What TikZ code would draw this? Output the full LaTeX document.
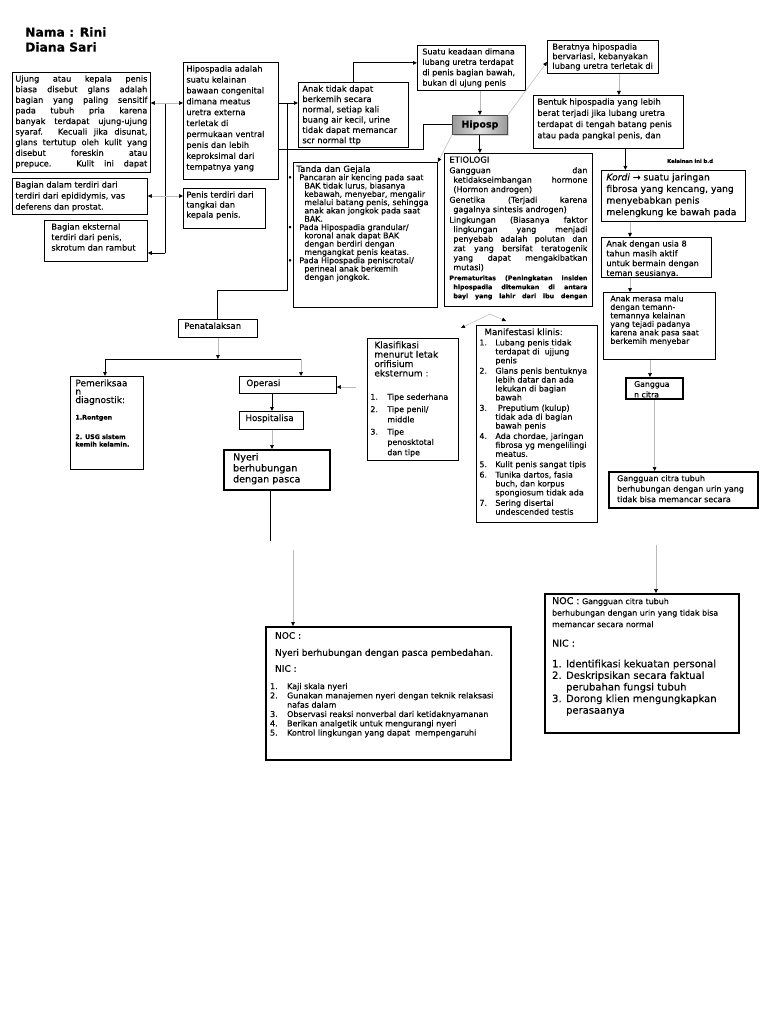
\documentclass[tikz,border=0pt]{standalone}
\usepackage{fontspec}
\setmainfont{DejaVu Sans}[FakeBold=0.25]
\usetikzlibrary{positioning,arrows.meta,calc,shadows}
\definecolor{linegray}{RGB}{185,185,185}
\tolerance=10000 \hbadness=10000 \vbadness=10000 \hfuzz=20pt \vfuzz=200pt
\newcommand{\fsz}[2]{\fontsize{#1}{#2}\selectfont}
\newcommand{\boxtext}[3]{\parbox[t][#2][t]{#1}{#3}}
\newcommand{\itm}[3][14pt]{\par\hangindent=#1\hangafter=1\noindent\makebox[#1][l]{#2}#3}
\newcommand{\bul}[1]{\par\hangindent=8pt\hangafter=1\noindent\hspace*{3pt}\llap{•\hspace{7pt}}#1}
\tikzset{
    box/.style={draw, line width=0.8pt, fill=white, anchor=north west, inner xsep=3pt, inner ysep=3pt},
    thickbox/.style={box, line width=2.2pt, drop shadow={shadow xshift=1.3pt, shadow yshift=-1.3pt, fill=gray!70, opacity=0.8}},
    hipbox/.style={draw=gray!60!black, line width=0.8pt, anchor=north west, minimum width=55pt, minimum height=19pt, inner sep=0pt,
        left color=gray!80, right color=gray!80, middle color=gray!25, font=\fsz{9.5}{11}\bfseries,
        drop shadow={shadow xshift=1.3pt, shadow yshift=-1.3pt, fill=gray!60}},
    lbl/.style={anchor=west, inner sep=0pt, font=\fsz{5.2}{6}\bfseries},
    ln/.style={line width=0.9pt},
    arr/.style={-{Triangle[length=4pt,width=3.6pt]}, line width=0.9pt},
    garr/.style={-{Triangle[length=4pt,width=3.6pt,black]}, line width=0.5pt, linegray},
    gboth/.style={{Triangle[length=4pt,width=3.6pt,black]}-{Triangle[length=4pt,width=3.6pt,black]}, line width=0.5pt, linegray}
}

\begin{document}
\begin{tikzpicture}[x=1pt,y=-1pt]
\fill[white] (0,0) rectangle (768,1024);
\useasboundingbox (0,0) rectangle (768,1024);

% title
\node[anchor=north west, inner sep=0pt, align=left, font=\fsz{12.3}{15}\bfseries] (title) at (25,27) {Nama : Rini\\Diana Sari};

% left column
\node[box] (A) at (12,72) {\boxtext{132pt}{94pt}{\fsz{8.2}{10.6}Ujung atau kepala penis\linebreak biasa disebut glans adalah\linebreak bagian yang paling sensitif\linebreak pada tubuh pria karena\linebreak banyak terdapat ujung-ujung\linebreak syaraf. Kecuali jika disunat,\linebreak glans tertutup oleh kulit yang\linebreak disebut foreskin atau\linebreak prepuce. Kulit ini dapat\linebreak\mbox{}}};
\node[box] (B) at (12,178) {\boxtext{129pt}{30pt}{\fsz{8.2}{11}Bagian dalam terdiri dari\\terdiri dari epididymis, vas\\deferens dan prostat.}};
\node[box, inner xsep=7pt] (C) at (44,220) {\boxtext{89pt}{35pt}{\fsz{8.2}{10.5}Bagian eksternal\\terdiri dari penis,\\skrotum dan rambut}};

\node[box] (D) at (183,62) {\boxtext{89pt}{111pt}{\fsz{8.2}{10.9}Hipospadia adalah\\suatu kelainan\\bawaan congenital\\dimana meatus\\uretra externa\\terletak di\\permukaan ventral\\penis dan lebih\\keproksimal dari\\tempatnya yang}};
\node[box] (E) at (183,188) {\boxtext{76pt}{34pt}{\fsz{8.2}{10}Penis terdiri dari\\tangkai dan\\kepala penis.}};

% top middle
\node[box, inner xsep=4pt] (F) at (298,82) {\boxtext{102pt}{59pt}{\fsz{8.3}{10.3}Anak tidak dapat\\berkemih secara\\normal, setiap kali\\buang air kecil, urine\\tidak dapat memancar\\scr normal ttp}};
\node[box, inner xsep=5pt] (G) at (417,45) {\boxtext{98pt}{39pt}{\fsz{8}{10.4}Suatu keadaan dimana\\lubang uretra terdapat\\di penis bagian bawah,\\bukan di ujung penis}};
\node[hipbox] (hip) at (452,115) {Hiposp};

% top right
\node[box, inner xsep=5pt] (H) at (547,40) {\boxtext{101pt}{27pt}{\fsz{8.2}{9.6}Beratnya hipospadia\\bervariasi, kebanyakan\\lubang uretra terletak di}};
\node[box, inner xsep=4pt] (I) at (533,95) {\boxtext{142pt}{47pt}{\fsz{8.3}{11.2}Bentuk hipospadia yang lebih\\berat terjadi jika lubang uretra\\terdapat di tengah batang penis\\atau pada pangkal penis, dan}};
\node[lbl] (kel) at (667,161) {Kelainan ini b.d};
\node[box, inner xsep=5pt] (J) at (601,170) {\boxtext{134pt}{45pt}{\fsz{9.2}{11.6}\textit{Kordi} → suatu jaringan\\fibrosa yang kencang, yang\\menyebabkan penis\\melengkung ke bawah pada}};
\node[box, inner xsep=5pt] (K) at (601,237) {\boxtext{100pt}{34pt}{\fsz{8.1}{9.8}Anak dengan usia 8\\tahun masih aktif\\untuk bermain dengan\\teman seusianya.}};
\node[box, inner xsep=7pt] (L) at (603,292) {\boxtext{98pt}{61pt}{\fsz{7.8}{8.5}Anak merasa malu\\dengan temann-\\temannya kelainan\\yang tejadi padanya\\karena anak pasa saat\\berkemih menyebar}};
\node[thickbox, inner xsep=8pt] (M) at (625,377) {\boxtext{41pt}{15pt}{\fsz{7.8}{10.5}Ganggua\\n citra}};
\node[thickbox, inner xsep=8pt] (N) at (608,471) {\boxtext{133pt}{30pt}{\fsz{8}{10.5}Gangguan citra tubuh\\berhubungan dengan urin yang\\tidak bisa memancar secara}};
\node[thickbox, inner xsep=7pt] (O) at (544,593) {\boxtext{180pt}{133pt}{\fsz{7.9}{11.5}{\fsz{9.5}{11.5}NOC :} Gangguan citra tubuh\\berhubungan dengan urin yang tidak bisa\\memancar secara normal\par\vspace{8pt}{\fsz{9.5}{11.5}NIC :\par}\vspace{9pt}\fsz{10}{11.6}\itm[14pt]{1.}{Identifikasi kekuatan personal}\itm[14pt]{2.}{Deskripsikan secara faktual\\perubahan fungsi tubuh}\itm[14pt]{3.}{Dorong klien mengungkapkan\\perasaanya}}};

% centre
\node[box] (P) at (293,162) {\boxtext{138pt}{139pt}{{\fsz{8.6}{10}Tanda dan Gejala\par}\fsz{7.9}{8.3}\bul{Pancaran air kencing pada saat\\BAK tidak lurus, biasanya\\kebawah, menyebar, mengalir\\melalui batang penis, sehingga\\anak akan jongkok pada saat\\BAK.}\bul{Pada Hipospadia grandular/\\koronal anak dapat BAK\\dengan berdiri dengan\\mengangkat penis keatas.}\bul{Pada Hipospadia peniscrotal/\\perineal anak berkemih\\dengan jongkok.}}};
\node[box, inner xsep=5pt] (Q) at (444,153) {\boxtext{138pt}{147pt}{\fsz{8}{9.5}\setlength{\parskip}{1pt}{\fsz{8.5}{9.5}ETIOLOGI\par}
\hangindent=4pt\hangafter=1 Gangguan dan\linebreak ketidakseimbangan hormone\linebreak (Hormon androgen)\par
\hangindent=4pt\hangafter=1 Genetika (Terjadi karena\linebreak gagalnya sintesis androgen)\par
\hangindent=4pt\hangafter=1 Lingkungan (Biasanya faktor\linebreak lingkungan yang menjadi\linebreak penyebab adalah polutan dan\linebreak zat yang bersifat teratogenik\linebreak yang dapat mengakibatkan\linebreak mutasi)\par
{\fsz{6.3}{9}\bfseries\hangindent=4pt\hangafter=1 Prematuritas (Peningkatan insiden\linebreak hipospadia ditemukan di antara\linebreak bayi yang lahir dari ibu dengan\linebreak\mbox{}\par}}};
\node[box] (R) at (367,338) {\boxtext{85pt}{116pt}{{\fsz{9}{9.4}\leftskip=4pt Klasifikasi\\menurut letak\\orifisium\\eksternum :\par}\vspace{11pt}\fsz{7.9}{10.3}\setlength{\parskip}{2pt}\itm[17pt]{1.}{Tipe sederhana}\itm[17pt]{2.}{Tipe penil/\\middle}\itm[17pt]{3.}{Tipe\\penosktotal\\dan tipe}}};
\node[box] (S) at (476,325) {\boxtext{115pt}{191pt}{{\fsz{8.8}{9.6}\leftskip=5pt Manifestasi klinis:\par}\fsz{8}{8.9}\setlength{\parskip}{1.5pt}\itm[16pt]{1.}{Lubang penis tidak\\terdapat di\ \ ujjung\\penis}\itm[16pt]{2.}{Glans penis bentuknya\\lebih datar dan ada\\lekukan di bagian\\bawah}\itm[16pt]{3.}{\ Preputium (kulup)\\tidak ada di bagian\\bawah penis}\itm[16pt]{4.}{Ada chordae, jaringan\\fibrosa yg mengelilingi\\meatus.}\itm[16pt]{5.}{Kulit penis sangat tipis}\itm[16pt]{6.}{Tunika dartos, fasia\\buch, dan korpus\\spongiosum tidak ada}\itm[16pt]{7.}{Sering disertai\\undescended testis}}};

% penatalaksanaan
\node[box, inner xsep=6pt] (pen) at (178,319) {\boxtext{67pt}{12pt}{\fsz{8.5}{10}Penatalaksan}};
\node[box, inner xsep=5pt] (pem) at (70,376) {\boxtext{63pt}{87pt}{{\fsz{9}{8.4}Pemeriksaa\\n\\diagnostik:\par}\vspace{9pt}{\fsz{6.3}{7.5}\bfseries 1.Rontgen\par\vspace{12pt}2. USG sistem\\kemih kelamin.\par}}};
\node[box, inner xsep=7pt] (op) at (239,376) {\boxtext{83pt}{11pt}{\fsz{8.8}{10}Operasi}};
\node[box, inner xsep=6pt] (hosp) at (239,411) {\boxtext{52pt}{12pt}{\fsz{8.8}{10}Hospitalisa}};
\node[thickbox, inner xsep=9pt] (ny) at (223,449) {\boxtext{88pt}{34pt}{\fsz{9.6}{11}Nyeri\\berhubungan\\dengan pasca}};
\node[thickbox, inner xsep=4pt] (noc) at (265,626) {\boxtext{237pt}{127pt}{\vspace*{2pt}{\fsz{9}{10}\leftskip=5pt NOC :\par\vspace{7pt}Nyeri berhubungan dengan pasca pembedahan.\par\vspace{6pt}NIC :\par}\vspace{8pt}\fsz{8}{9.3}\itm[17pt]{1.}{Kaji skala nyeri}\itm[17pt]{2.}{Gunakan manajemen nyeri dengan teknik relaksasi\\nafas dalam}\itm[17pt]{3.}{Observasi reaksi nonverbal dari ketidaknyamanan}\itm[17pt]{4.}{Berikan analgetik untuk mengurangi nyeri}\itm[17pt]{5.}{Kontrol lingkungan yang dapat\ \ mempengaruhi}}};

% junctions
\coordinate (jA) at (165,103);
\coordinate (jB) at (165,196);
\coordinate (jC) at (165,253);
\coordinate (jD) at (287,103);
\coordinate (jE) at (287,290);
\coordinate (jF) at (423,149);
\coordinate (jQ) at (490,314);
\coordinate (qR) at (461,328);
\coordinate (qS) at (506,321);
\coordinate (barL) at (105,359);
\coordinate (barR) at (301,359);
\coordinate (jOp) at (356,387);
\coordinate (opS) at ([xshift=33pt]op.south west);
\coordinate (hoS) at ([xshift=33pt]hosp.south west);
\coordinate (jN) at (270,541);
\coordinate (jN2) at (293,550);
\coordinate (jO) at (656,545);
\coordinate (hS) at ([xshift=16pt]H.south);
\coordinate (iS) at ([xshift=17pt]I.south);
\coordinate (jS) at ([xshift=29pt]J.south west);
\coordinate (kS) at ([xshift=29pt]K.south west);
\coordinate (lS) at ([xshift=47pt]L.south west);

% left connectors
\draw[ln] (jA) -- (jC);
\draw[arr] (jC) -- (jC -| C.east);
\draw[gboth] (jA -| A.east) -- (jA -| D.west);
\draw[gboth] (jB -| B.east) -- (jB -| E.west);
\draw[arr] (jD -| D.east) -- (jD -| F.west);
\draw[ln] (jD) -- (jE) -| (pen.north);
\draw[ln] (jF -| D.east) -- (jF) |- (hip.west);
\draw[arr] (F.north) |- ([yshift=5pt]G.west);

% around Hiposp
\draw[garr] (hip.north |- G.south) -- (hip.north);
\draw[arr] (hip.south) -- (hip.south |- Q.north);
\draw[garr] (hip.south west) -- (P.north east);
\draw[garr] (hip.north east) -- ([yshift=-5pt]H.west);
\draw[garr] (hS) -- (hS |- I.north);
\draw[arr] (iS) -- (iS |- J.north);
\draw[garr] (jS) -- (jS |- K.north);
\draw[garr] (kS) -- (kS |- L.north);
\draw[garr] (lS) -- (lS |- M.north);
\draw[garr] (M.south) -- (M.south |- N.north);
\draw[garr] (jO) -- (jO |- O.north);
\draw[garr] (jQ) -- (qR);
\draw[garr] (jQ) -- (qS);

% penatalaksanaan branch
\draw[garr] (pen.south) -- (pen.south |- barL);
\draw[ln] (barL) -- (barR);
\draw[arr] (barL) -- (barL |- pem.north);
\draw[garr] (barR) -- (barR |- op.north);
\draw[garr] (jOp) -- (jOp -| op.east);
\draw[arr] (opS) -- (opS |- hosp.north);
\draw[garr] (hoS) -- (hoS |- ny.north);
\draw[ln] (jN |- ny.south) -- (jN);
\draw[garr] (jN2) -- (jN2 |- noc.north);
\end{tikzpicture}
\end{document}
